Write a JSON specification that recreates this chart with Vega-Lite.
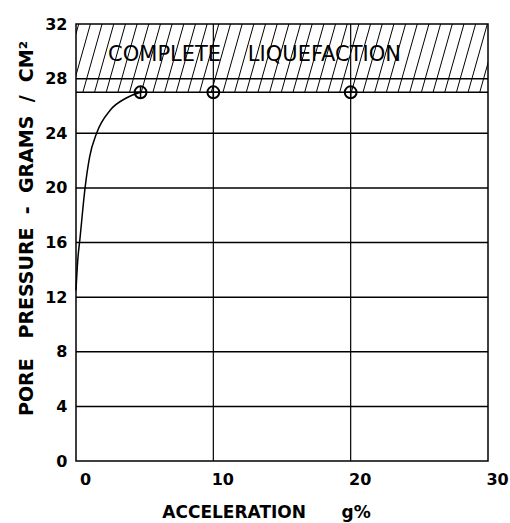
{
  "$schema": "https://vega.github.io/schema/vega-lite/v6.json",
  "width": 412,
  "height": 437,
  "autosize": "none",
  "padding": {"left": 76, "top": 24, "right": 22, "bottom": 62},
  "background": "white",
  "config": {
    "view": {"stroke": "black", "strokeWidth": 1.5},
    "axis": {
      "labelFont": "DejaVu Sans",
      "labelFontWeight": "bold",
      "labelFontSize": 16,
      "labelColor": "black",
      "titleFont": "DejaVu Sans",
      "titleFontWeight": "bold",
      "titleColor": "black",
      "ticks": false,
      "domain": false,
      "grid": false
    }
  },
  "datasets": {
    "hatch": [
      {"h": -1.2, "h2": 0.2}, {"h": -0.35, "h2": 1.05}, {"h": 0.5, "h2": 1.9}, {"h": 1.35, "h2": 2.75},
      {"h": 2.2, "h2": 3.6}, {"h": 3.05, "h2": 4.45}, {"h": 3.9, "h2": 5.3}, {"h": 4.75, "h2": 6.15},
      {"h": 5.6, "h2": 7.0}, {"h": 6.45, "h2": 7.85}, {"h": 7.3, "h2": 8.7}, {"h": 8.15, "h2": 9.55},
      {"h": 9.0, "h2": 10.4}, {"h": 9.85, "h2": 11.25}, {"h": 10.7, "h2": 12.1}, {"h": 11.55, "h2": 12.95},
      {"h": 12.4, "h2": 13.8}, {"h": 13.25, "h2": 14.65}, {"h": 14.1, "h2": 15.5}, {"h": 14.95, "h2": 16.35},
      {"h": 15.8, "h2": 17.2}, {"h": 16.65, "h2": 18.05}, {"h": 17.5, "h2": 18.9}, {"h": 18.35, "h2": 19.75},
      {"h": 19.2, "h2": 20.6}, {"h": 20.05, "h2": 21.45}, {"h": 20.9, "h2": 22.3}, {"h": 21.75, "h2": 23.15},
      {"h": 22.6, "h2": 24.0}, {"h": 23.45, "h2": 24.85}, {"h": 24.3, "h2": 25.7}, {"h": 25.15, "h2": 26.55},
      {"h": 26.0, "h2": 27.4}, {"h": 26.85, "h2": 28.25}, {"h": 27.7, "h2": 29.1}, {"h": 28.55, "h2": 29.95},
      {"h": 29.4, "h2": 30.8}
    ],
    "levels": [{"y": 4}, {"y": 8}, {"y": 12}, {"y": 16}, {"y": 20}, {"y": 24}, {"y": 27}, {"y": 28}],
    "verticals": [{"x": 10}, {"x": 20}],
    "curve": [
      {"acc": 0, "pp": 12.5},
      {"acc": 0.12, "pp": 14.6},
      {"acc": 0.29, "pp": 16.3},
      {"acc": 0.66, "pp": 20.0},
      {"acc": 1.0, "pp": 22.3},
      {"acc": 1.5, "pp": 24.0},
      {"acc": 2.5, "pp": 25.7},
      {"acc": 3.7, "pp": 26.6},
      {"acc": 4.7, "pp": 27.0}
    ],
    "points": [{"acc": 4.7, "pp": 27}, {"acc": 10, "pp": 27}, {"acc": 20, "pp": 27}],
    "label": [{"acc": 13.0, "pp": 29.7, "text": "COMPLETE\u00a0\u00a0\u00a0\u00a0LIQUEFACTION"}]
  },
  "layer": [
    {
      "data": {"name": "hatch"},
      "mark": {"type": "rule", "clip": true, "color": "black", "strokeWidth": 1},
      "encoding": {
        "x": {"field": "h", "type": "quantitative", "scale": {"domain": [0, 30], "nice": false, "zero": false},
          "axis": {"values": [0, 10, 20, 30], "title": "ACCELERATION\u00a0\u00a0\u00a0\u00a0\u00a0\u00a0g%", "titleFontSize": 17, "labelOffset": 9, "labelPadding": 10, "labelFlush": false, "titlePadding": 17, "titleX": 190, "titleAlign": "center"}},
        "x2": {"field": "h2"},
        "y": {"datum": 27, "type": "quantitative", "scale": {"domain": [0, 32], "nice": false},
          "axis": {"values": [0, 4, 8, 12, 16, 20, 24, 28, 32], "title": "PORE\u00a0\u00a0\u00a0PRESSURE\u00a0\u00a0-\u00a0\u00a0GRAMS\u00a0\u00a0/\u00a0\u00a0CM²", "titleFontSize": 19, "labelPadding": 9, "titlePadding": 8, "titleY": 204, "labelFlush": false}},
        "y2": {"datum": 32}
      }
    },
    {
      "data": {"name": "levels"},
      "mark": {"type": "rule", "color": "black", "strokeWidth": 1.5},
      "encoding": {"y": {"field": "y", "type": "quantitative"}}
    },
    {
      "data": {"name": "verticals"},
      "mark": {"type": "rule", "color": "black", "strokeWidth": 1.2},
      "encoding": {"x": {"field": "x", "type": "quantitative"}}
    },
    {
      "data": {"name": "curve"},
      "mark": {"type": "line", "interpolate": "monotone", "color": "black", "strokeWidth": 1.5},
      "encoding": {
        "x": {"field": "acc", "type": "quantitative"},
        "y": {"field": "pp", "type": "quantitative"}
      }
    },
    {
      "data": {"name": "points"},
      "mark": {"type": "point", "shape": "circle", "filled": false, "color": "black", "strokeWidth": 2, "size": 140, "opacity": 1},
      "encoding": {
        "x": {"field": "acc", "type": "quantitative"},
        "y": {"field": "pp", "type": "quantitative"}
      }
    },
    {
      "data": {"name": "points"},
      "mark": {"type": "point", "shape": "M-1,0L1,0M0,-1L0,1", "filled": false, "color": "black", "strokeWidth": 1.5, "size": 140, "opacity": 1},
      "encoding": {
        "x": {"field": "acc", "type": "quantitative"},
        "y": {"field": "pp", "type": "quantitative"}
      }
    },
    {
      "data": {"name": "label"},
      "mark": {"type": "text", "font": "DejaVu Sans", "fontSize": 21, "color": "black", "align": "center", "baseline": "middle"},
      "encoding": {
        "x": {"field": "acc", "type": "quantitative"},
        "y": {"field": "pp", "type": "quantitative"},
        "text": {"field": "text"}
      }
    }
  ]
}
